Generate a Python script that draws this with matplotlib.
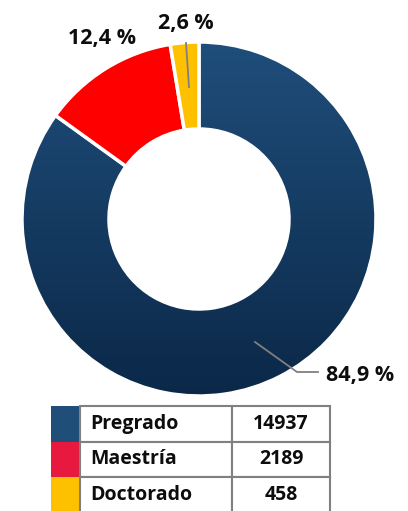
import matplotlib
matplotlib.use("Agg")
import matplotlib.pyplot as plt
import numpy as np
from matplotlib.colors import LinearSegmentedColormap
from matplotlib.patches import Rectangle

categories = ["Pregrado", "Maestría", "Doctorado"]
values = [14937, 2189, 458]
pct_labels = ["84,9 %", "12,4 %", "2,6 %"]
pie_colors = ["#1F4E79", "#FF0000", "#FFC000"]
legend_colors = ["#1F4E79", "#E8193F", "#FFC000"]

plt.rcParams['font.family'] = ['Open Sans', 'DejaVu Sans']

W, H = 408, 511
fig = plt.figure(figsize=(W/100, H/100), dpi=100)
ax = fig.add_axes([0, 0, 1, 1])

cx, cy = 199, H - 219
R = 177
wedges, _ = ax.pie(values, colors=pie_colors, startangle=90, counterclock=False,
                   center=(cx, cy), radius=R, frame=True,
                   wedgeprops=dict(width=R - 90, edgecolor='white', linewidth=2.5))
ax.set_xlim(0, W)
ax.set_ylim(0, H)
ax.set_aspect('equal')
ax.axis('off')

# gradient on the first wedge
cmap = LinearSegmentedColormap.from_list('g', ["#1F4E7B", "#0B2848"])
grad = np.linspace(0, 1, 256).reshape(-1, 1)
im = ax.imshow(grad, cmap=cmap, extent=[cx-R, cx+R, cy-R, cy+R], origin='upper',
               aspect='auto', zorder=wedges[0].get_zorder())
im.set_clip_path(wedges[0])
wedges[0].set_facecolor('none')
wedges[0].set_zorder(im.get_zorder()+0.1)
for w in wedges[1:]:
    w.set_zorder(im.get_zorder()+0.2)

lc = '#808080'
# leader lines
ax.plot([255, 297, 318], [H-342, H-372, H-372], color=lc, lw=1.3, zorder=5)
ax.plot([189, 186], [H-87, H-43], color=lc, lw=1.3, zorder=5)

fs = 15.5
tc = '#0D0D0D'
ax.text(326, H-375, pct_labels[0], ha='left', va='center', fontsize=fs, fontweight='bold', color=tc)
ax.text(102, H-38, pct_labels[1], ha='center', va='center', fontsize=fs, fontweight='bold', color=tc)
ax.text(186, H-23, pct_labels[2], ha='center', va='center', fontsize=fs, fontweight='bold', color=tc)

# table
x0, x1, x2, x3 = 51, 80, 232, 330
ytop = 406
rh = 35.5
tfs = 14
for i, (c, v, col) in enumerate(zip(categories, values, legend_colors)):
    yt = ytop + i*rh
    ax.add_patch(Rectangle((x0, H-yt-rh), x1-x0, rh, facecolor=col, edgecolor='none', zorder=3))
    ax.add_patch(Rectangle((x1, H-yt-rh), x2-x1, rh, facecolor='white', edgecolor=lc, lw=1.5, zorder=3))
    ax.add_patch(Rectangle((x2, H-yt-rh), x3-x2, rh, facecolor='white', edgecolor=lc, lw=1.5, zorder=3))
    ax.text(x1+10, H-yt-rh/2, c, ha='left', va='center', fontsize=tfs, fontweight='bold', color=tc, zorder=4)
    ax.text((x2+x3)/2, H-yt-rh/2, str(v), ha='center', va='center', fontsize=tfs, fontweight='bold', color=tc, zorder=4)

fig.savefig('out.png', dpi=100)
